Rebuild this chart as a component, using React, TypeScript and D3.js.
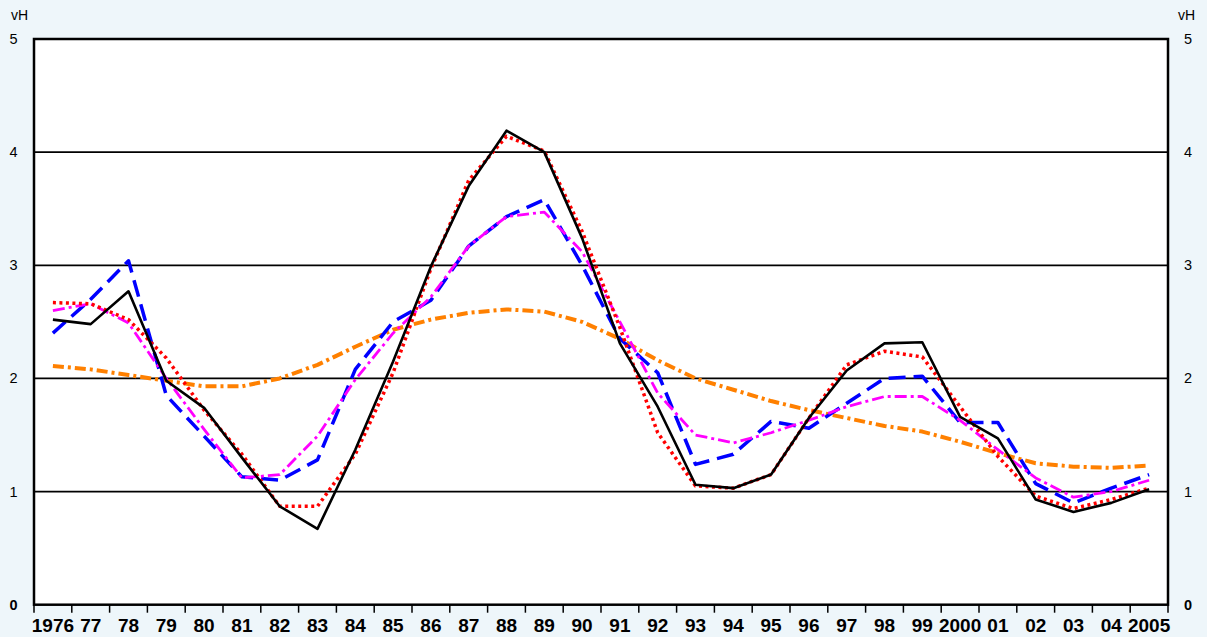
import React from "react";
import * as d3 from "d3";

const years = ["1976","77","78","79","80","81","82","83","84","85","86","87","88","89","90","91","92","93","94","95","96","97","98","99","2000","01","02","03","04","2005"];

const seriesBlack = [2.52,2.48,2.77,1.98,1.74,1.30,0.87,0.67,1.37,2.15,2.99,3.70,4.19,4.00,3.24,2.31,1.75,1.06,1.03,1.15,1.65,2.07,2.31,2.32,1.66,1.47,0.93,0.82,0.90,1.02];
const seriesRed = [2.67,2.66,2.52,2.18,1.72,1.33,0.87,0.87,1.33,2.05,2.97,3.75,4.14,4.01,3.30,2.45,1.52,1.05,1.03,1.15,1.65,2.12,2.24,2.19,1.75,1.31,0.96,0.85,0.93,1.03];
const seriesBlue = [2.40,2.70,3.04,1.85,1.49,1.13,1.10,1.28,2.08,2.50,2.69,3.17,3.43,3.58,3.00,2.35,2.05,1.24,1.33,1.62,1.56,1.78,2.00,2.02,1.61,1.61,1.07,0.90,1.03,1.15];
const seriesMagenta = [2.60,2.66,2.49,2.00,1.55,1.12,1.15,1.49,1.99,2.40,2.72,3.17,3.43,3.47,3.12,2.50,1.87,1.50,1.43,1.52,1.63,1.75,1.84,1.84,1.63,1.37,1.12,0.95,1.00,1.10];
const seriesOrange = [2.11,2.08,2.03,1.98,1.93,1.93,2.00,2.12,2.28,2.43,2.52,2.58,2.61,2.59,2.50,2.35,2.16,2.00,1.90,1.80,1.72,1.65,1.58,1.53,1.44,1.34,1.25,1.22,1.21,1.23];

const yTicks = [0, 1, 2, 3, 4, 5];
const unitLabel = "vH";

const W = 1207, H = 637;
const L = 34, R = 1168, T = 39, B = 604.7;
const FONT = "'Liberation Sans', Arial, Helvetica, sans-serif";

export default function App() {
  React.useEffect(() => {
    document.body.style.margin = "0";
    document.body.style.background = "#eef6fa";
  }, []);

  const x = d3.scaleBand<string>().domain(years).range([L, R]).paddingInner(0).paddingOuter(0);
  const y = d3.scaleLinear().domain([0, 5]).range([B, T]);
  const cx = (i: number) => (x(years[i]) as number) + x.bandwidth() / 2;
  const line = d3.line<number>().x((_, i) => cx(i)).y((d) => y(d));

  const series = [
    { data: seriesOrange, color: "#ff8000", width: 4, dash: "11 4 3 4" },
    { data: seriesBlue, color: "#0000ff", width: 3.5, dash: "17 8" },
    { data: seriesMagenta, color: "#ff00ff", width: 2.8, dash: "12 4 3 4" },
    { data: seriesRed, color: "#ff0000", width: 3.5, dash: "3 3.5" },
    { data: seriesBlack, color: "#000000", width: 2.6, dash: undefined as string | undefined },
  ];

  const tickEdges = years.map((yr) => x(yr) as number).concat([R]);

  return (
    <svg width={W} height={H} style={{ position: "absolute", left: 0, top: 0, display: "block" }} fontFamily={FONT}>
      <rect x={0} y={0} width={W} height={H} fill="#eef6fa" />
      <rect x={L} y={T} width={R - L} height={B - T} fill="#ffffff" />
      {yTicks.filter((t) => t > 0 && t < 5).map((t) => (
        <line key={"g" + t} x1={L} x2={R} y1={y(t)} y2={y(t)} stroke="#000" strokeWidth={1.8} />
      ))}
      {series.map((s, k) => (
        <path key={k} d={line(s.data) || ""} fill="none" stroke={s.color} strokeWidth={s.width}
          strokeDasharray={s.dash} strokeLinejoin="round" />
      ))}
      <rect x={L} y={T} width={R - L} height={B - T} fill="none" stroke="#000" strokeWidth={2.5} />
      {tickEdges.map((tx, i) => (
        <line key={"t" + i} x1={tx} x2={tx} y1={B} y2={B + 8} stroke="#000" strokeWidth={1.5} />
      ))}
      {years.map((yr, i) => (
        <text key={yr} x={cx(i)} y={632} textAnchor="middle" fontSize={19} fontWeight="bold" fill="#000">{yr}</text>
      ))}
      {yTicks.map((t) => (
        <g key={"yl" + t}>
          <text x={13.5} y={y(t) + 5} textAnchor="middle" fontSize={14.5} fontWeight={t === 0 ? "bold" : "normal"} fill="#000">{t}</text>
          <text x={1188} y={y(t) + 5} textAnchor="middle" fontSize={14.5} fontWeight={t === 0 ? "bold" : "normal"} fill="#000">{t}</text>
        </g>
      ))}
      <text x={11} y={20} fontSize={14} fill="#000">{unitLabel}</text>
      <text x={1195} y={20} fontSize={14} textAnchor="end" fill="#000">{unitLabel}</text>
    </svg>
  );
}
